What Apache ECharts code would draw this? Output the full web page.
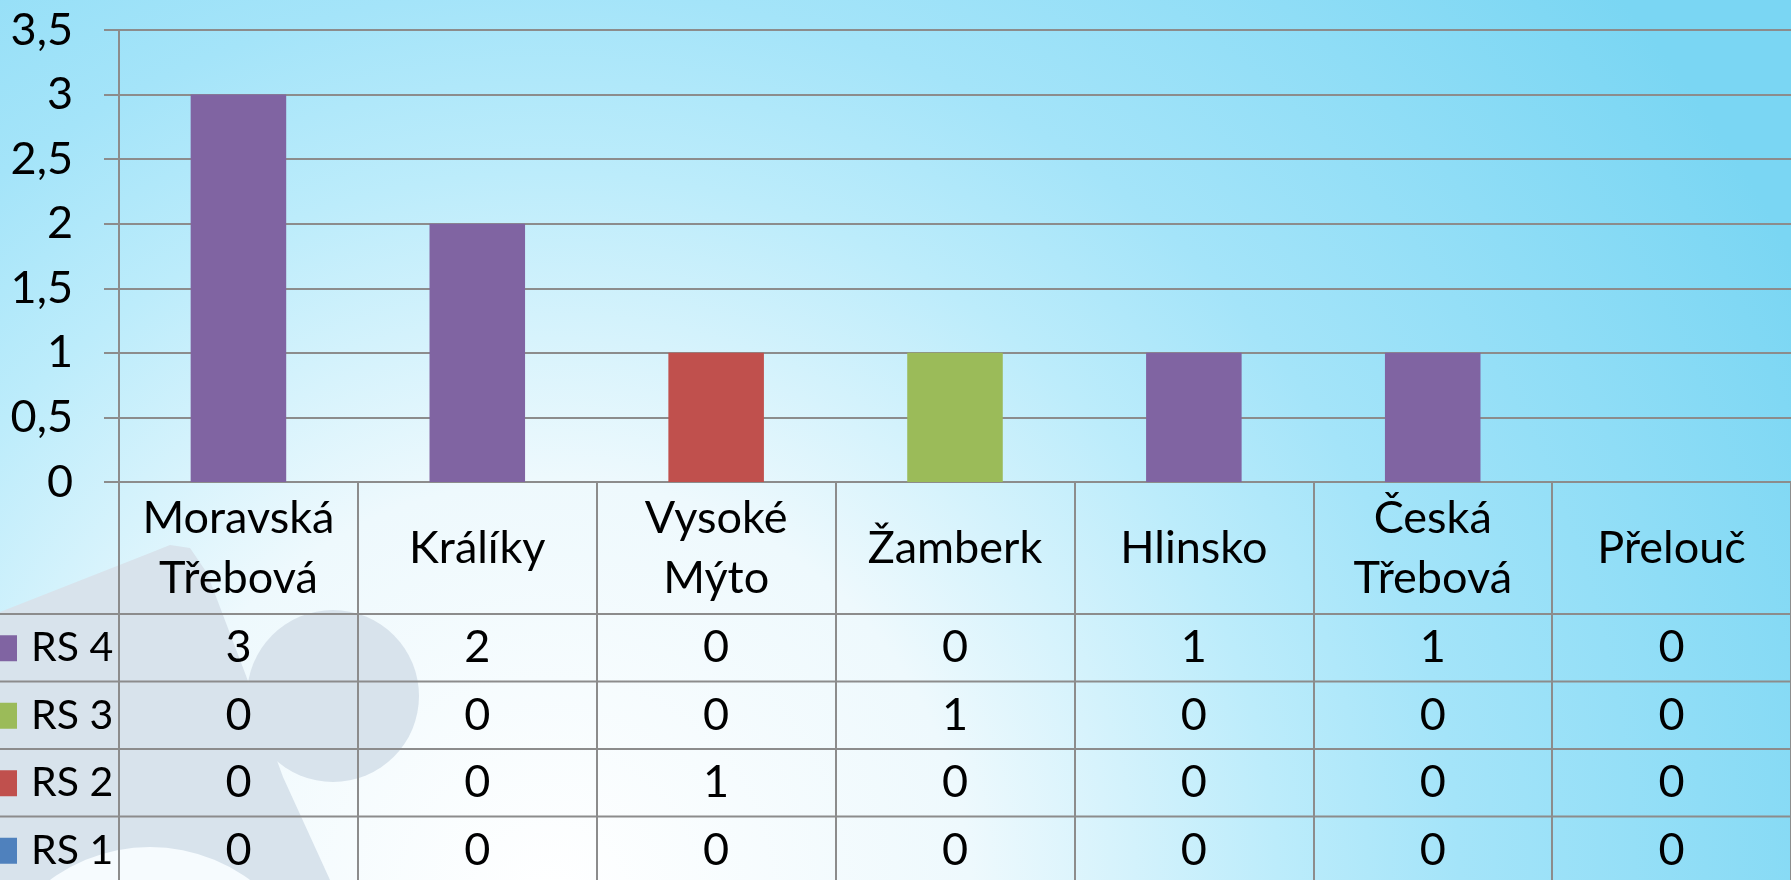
<!DOCTYPE html>
<html>
<head>
<meta charset="utf-8">
<script src="https://cdn.jsdelivr.net/npm/echarts@6/dist/echarts.min.js"></script>
<style>
  html, body { margin: 0; padding: 0; overflow: hidden; }
  #chart { width: 1791px; height: 880px; }
</style>
</head>
<body>
<div id="chart"></div>
<script>
// ---- data ----
const categories = ['Moravská Třebová', 'Králíky', 'Vysoké Mýto', 'Žamberk', 'Hlinsko', 'Česká Třebová', 'Přelouč'];
const rs4 = [3, 2, 0, 0, 1, 1, 0];
const rs3 = [0, 0, 0, 1, 0, 0, 0];
const rs2 = [0, 0, 1, 0, 0, 0, 0];
const rs1 = [0, 0, 0, 0, 0, 0, 0];
const tableRows = [['RS 4', rs4], ['RS 3', rs3], ['RS 2', rs2], ['RS 1', rs1]];
const yMin = 0, yMax = 3.5, yStep = 0.5;

// ---- layout / style ----
const FONT = 'Lato';
const FS = 45;
const LINE = '#8c8c8c';
const colors = { 'RS 1': '#4f81bd', 'RS 2': '#c0504d', 'RS 3': '#9bbb59', 'RS 4': '#8064a2' };
const gridLeft = 119, gridTop = 30, gridW = 1679, gridH = 452;
const axisY = gridTop + gridH;          // 482
const headerBottom = 614, rowH = 67.5;

const chart = echarts.init(document.getElementById('chart'), null, { renderer: 'canvas' });

const xAxes = [{
  type: 'category', gridIndex: 0, data: categories, position: 'bottom',
  axisLine: { show: true, lineStyle: { color: LINE, width: 2 } },
  axisTick: { show: true, interval: 0, length: 880 - axisY, lineStyle: { color: LINE, width: 2 } },
  axisLabel: {
    interval: 0, margin: (headerBottom - axisY) / 2, verticalAlign: 'middle',
    fontFamily: FONT, fontSize: FS, lineHeight: 60, color: '#000',
    formatter: v => v.replace(' ', '\n')
  }
}];
const legends = [];
tableRows.forEach((row, i) => {
  const vals = row[1];
  const rowCenter = headerBottom + rowH * (i + 0.5);
  xAxes.push({
    type: 'category', gridIndex: 0, data: categories, position: 'bottom',
    axisLine: { show: false }, axisTick: { show: false }, splitLine: { show: false },
    axisLabel: {
      interval: 0, margin: rowCenter - axisY, verticalAlign: 'middle',
      fontFamily: FONT, fontSize: FS, color: '#000',
      formatter: (v, idx) => String(vals[idx])
    }
  });
  legends.push({
    orient: 'vertical', left: -9, top: rowCenter - 20, padding: 0,
    itemWidth: 26, itemHeight: 26, icon: 'rect', selectedMode: false,
    data: [row[0]],
    textStyle: { fontFamily: FONT, fontSize: 41, lineHeight: 40, color: '#000', padding: [0, 0, 0, 9] }
  });
});

const graphics = [
  // watermark puzzle shape
  { type: 'polygon', z: -10, silent: true,
    shape: { points: [[0, 612], [150, 553], [170, 545], [190, 548], [207, 573], [245, 673], [283, 777], [330, 880], [0, 880]] },
    style: { fill: '#d8e3ec' } },
  { type: 'circle', z: -10, silent: true, shape: { cx: 333, cy: 696, r: 86 }, style: { fill: '#d8e3ec' } },
  { type: 'circle', z: -9, silent: true, shape: { cx: 150, cy: 1015, r: 168 }, style: { fill: '#f6fbfe' } }
];
for (let i = 0; i < 4; i++) {
  const y = headerBottom + rowH * i;
  graphics.push({ type: 'line', z: 5, silent: true, shape: { x1: 0, y1: y, x2: 1791, y2: y },
    style: { stroke: LINE, lineWidth: 2 } });
}

const option = {
  animation: false,
  backgroundColor: {
    type: 'radial', x: 550, y: 900, r: 1400, global: true,
    colorStops: [
      { offset: 0, color: '#ffffff' },
      { offset: 0.3, color: '#eef9fd' },
      { offset: 0.52, color: '#bcecfb' },
      { offset: 0.65, color: '#a4e4f9' },
      { offset: 0.95, color: '#80d8f4' },
      { offset: 1, color: '#7ad6f3' }
    ]
  },
  grid: { left: gridLeft, top: gridTop, width: gridW, height: gridH, containLabel: false },
  legend: legends,
  xAxis: xAxes,
  yAxis: {
    type: 'value', min: yMin, max: yMax, interval: yStep,
    axisLine: { show: true, lineStyle: { color: LINE, width: 2 } },
    axisTick: { show: true, length: 15, lineStyle: { color: LINE, width: 2 } },
    splitLine: { show: true, lineStyle: { color: LINE, width: 2 } },
    axisLabel: { margin: 46, fontFamily: FONT, fontSize: FS, color: '#000',
      formatter: v => String(v).replace('.', ',') }
  },
  graphic: graphics,
  series: [
    { name: 'RS 1', data: rs1 },
    { name: 'RS 2', data: rs2 },
    { name: 'RS 3', data: rs3 },
    { name: 'RS 4', data: rs4 }
  ].map(s => ({
    type: 'bar', name: s.name, data: s.data, stack: 'total', barWidth: '40%',
    xAxisIndex: 0, yAxisIndex: 0,
    itemStyle: { color: colors[s.name] }
  }))
};
chart.setOption(option);
</script>
</body>
</html>
